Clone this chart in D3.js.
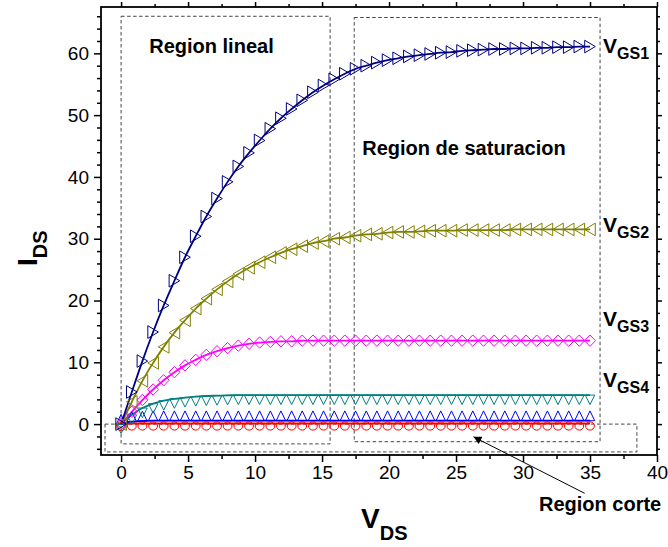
<!DOCTYPE html>
<html>
<head>
<meta charset="utf-8">
<script src="https://cdn.jsdelivr.net/npm/d3@7/dist/d3.min.js"></script>
<style>
html,body{margin:0;padding:0;background:#fff;}
svg{display:block;font-family:"Liberation Sans",Arial,sans-serif;}
</style>
</head>
<body>
<svg id="chart" width="668" height="547"></svg>
<script>
// ---- data ----
const vds = [0,0.80,1.59,2.39,3.18,3.98,4.77,5.57,6.36,7.16,7.95,8.75,9.55,10.34,11.14,11.93,12.73,13.52,14.32,15.11,15.91,16.70,17.50,18.30,19.09,19.89,20.68,21.48,22.27,23.07,23.86,24.66,25.45,26.25,27.05,27.84,28.64,29.43,30.23,31.02,31.82,32.61,33.41,34.20,35.00];
const vgs1 = [0,5.2,10.2,14.9,19.2,23.2,27.0,30.4,33.6,36.5,39.2,41.7,43.9,45.9,47.8,49.5,51.0,52.4,53.7,54.8,55.8,56.7,57.5,58.0,58.5,58.9,59.2,59.5,59.7,59.9,60.1,60.2,60.4,60.5,60.6,60.7,60.7,60.8,60.8,60.9,60.9,61.0,61.0,61.1,61.1];
const vgs2 = [0,3.6,7.0,9.9,12.5,14.8,16.8,18.7,20.3,21.8,23.1,24.3,25.3,26.2,27.0,27.7,28.3,28.8,29.3,29.6,30.0,30.2,30.5,30.7,30.8,31.0,31.1,31.1,31.2,31.3,31.3,31.3,31.4,31.4,31.4,31.4,31.4,31.5,31.5,31.5,31.5,31.5,31.5,31.5,31.5];
const vgs3 = [0,2.0,3.9,5.6,7.1,8.4,9.5,10.4,11.2,11.8,12.3,12.7,13.0,13.2,13.3,13.4,13.4,13.5,13.5,13.5,13.5,13.5,13.5,13.5,13.5,13.5,13.5,13.5,13.5,13.5,13.5,13.5,13.5,13.5,13.5,13.5,13.5,13.5,13.5,13.5,13.5,13.5,13.5,13.5,13.5];
const vgs4 = [0,1.5,2.6,3.3,3.8,4.1,4.3,4.45,4.55,4.6,4.65,4.7,4.7,4.7,4.7,4.7,4.7,4.7,4.7,4.7,4.7,4.7,4.7,4.7,4.7,4.7,4.7,4.7,4.7,4.7,4.7,4.7,4.7,4.7,4.7,4.7,4.7,4.7,4.7,4.7,4.7,4.7,4.7,4.7,4.7];
const vgs5 = [0,0.4,0.5,0.55,0.55,0.55,0.55,0.55,0.55,0.55,0.55,0.55,0.55,0.55,0.55,0.55,0.55,0.55,0.55,0.55,0.55,0.55,0.55,0.55,0.55,0.55,0.55,0.55,0.55,0.55,0.55,0.55,0.55,0.55,0.55,0.55,0.55,0.55,0.55,0.55,0.55,0.55,0.55,0.55,0.55];
const vgs6 = [0,0.1,0.1,0.1,0.1,0.1,0.1,0.1,0.1,0.1,0.1,0.1,0.1,0.1,0.1,0.1,0.1,0.1,0.1,0.1,0.1,0.1,0.1,0.1,0.1,0.1,0.1,0.1,0.1,0.1,0.1,0.1,0.1,0.1,0.1,0.1,0.1,0.1,0.1,0.1,0.1,0.1,0.1,0.1,0.1];
const xMajorTicks = [0,5,10,15,20,25,30,35,40];
const yMajorTicks = [0,10,20,30,40,50,60];
const seriesLabels = ["GS1","GS2","GS3","GS4"];
const annotations = ["Region lineal","Region de saturacion","Region corte"];

// ---- styles ----
const series = [
  {vals: vgs6, color:"#ff0000", shape:"circle"},
  {vals: vgs5, color:"#0000ff", shape:"up"},
  {vals: vgs4, color:"#008080", shape:"down"},
  {vals: vgs3, color:"#ff00ff", shape:"diamond"},
  {vals: vgs2, color:"#808000", shape:"left"},
  {vals: vgs1, color:"#000080", shape:"right"}
];
const shapes = {
  right:"M-5.3,-6.3L5.3,0L-5.3,6.3Z",
  left:"M5.3,-6.3L-5.3,0L5.3,6.3Z",
  down:"M-4.8,0L4.8,0L0,9.5Z",
  up:"M-4.7,0L4.7,0L0,-9.8Z",
  diamond:"M0,-5.7L5.5,0L0,5.7L-5.5,0Z",
  circle:"M-4.4,2.5A4.4,4.1 0 1,0 4.4,2.5A4.4,4.1 0 1,0 -4.4,2.5Z"
};

const svg = d3.select("#chart");
const L=101, R=657, T=7, B=455;
const x = d3.scaleLinear().domain([-1.5,40]).range([L,R]);
const y = d3.scaleLinear().domain([-5,67.5]).range([B,T]);

// dashed region boxes
const dash = {stroke:"#444","stroke-width":1,"stroke-dasharray":"3.5,2.5",fill:"none"};
function box(x0,x1,y0,y1){
  const r = svg.append("rect")
    .attr("x",x(x0)).attr("y",y(y1))
    .attr("width",x(x1)-x(x0)).attr("height",y(y0)-y(y1));
  for (const k in dash) r.attr(k,dash[k]);
}
box(0,15.6,-3.2,66.0);
box(17.4,35.75,-2.85,65.8);
box(-1.2,38.5,-4.5,0);

// lines & markers
const line = d3.line().x((d,i)=>x(vds[i])).y(d=>y(d)).curve(d3.curveMonotoneX);
series.forEach(s=>{
  svg.append("path").attr("d",line(s.vals)).attr("fill","none")
    .attr("stroke",s.color).attr("stroke-width",1.8);
});
series.forEach(s=>{
  svg.append("g").selectAll("path").data(s.vals).join("path")
    .attr("d",shapes[s.shape])
    .attr("transform",(d,i)=>`translate(${x(vds[i])},${y(d)})`)
    .attr("fill","none").attr("stroke",s.color).attr("stroke-width",1);
});

// axes
const minorX = d3.range(0,40.01,2.5).filter(v=>v%5!==0);
const minorY = d3.range(-4,67,2).filter(v=>v%10!==0);
function ax(gen, tr, vals, size, labels){
  const g = svg.append("g").attr("transform",tr)
    .call(gen.tickValues(vals).tickSize(size).tickSizeOuter(0).tickFormat(labels?d3.format("d"):""));
  g.select(".domain").remove();
  g.selectAll("line").attr("stroke","#000").attr("stroke-width",1.5);
  g.selectAll("text").attr("font-size",19).attr("font-family","'Liberation Sans',Arial,sans-serif").attr("fill","#000");
  return g;
}
const gxb = ax(d3.axisBottom(x),`translate(0,${B})`,xMajorTicks,7,true);
gxb.selectAll("text").attr("y",11).attr("dy","0.71em");
ax(d3.axisBottom(x),`translate(0,${B})`,minorX,4,false);
ax(d3.axisTop(x),`translate(0,${T})`,xMajorTicks,5,false);
ax(d3.axisTop(x),`translate(0,${T})`,minorX,3,false);
const gyl = ax(d3.axisLeft(y),`translate(${L},0)`,yMajorTicks,7,true);
gyl.selectAll("text").attr("x",-12);
ax(d3.axisLeft(y),`translate(${L},0)`,minorY,4,false);
ax(d3.axisRight(y),`translate(${R},0)`,yMajorTicks,5,false);
ax(d3.axisRight(y),`translate(${R},0)`,minorY,3,false);

// frame
svg.append("rect").attr("x",L).attr("y",T).attr("width",R-L).attr("height",B-T)
  .attr("fill","none").attr("stroke","#000").attr("stroke-width",1.8);

// annotation texts
const fs = "font-weight:bold;fill:#000;";
svg.append("text").attr("x",x(2.1)).attr("y",53).attr("font-size",20).attr("style",fs).text(annotations[0]);
svg.append("text").attr("x",x(18.0)).attr("y",155).attr("font-size",20).attr("style",fs).text(annotations[1]);
svg.append("text").attr("x",539).attr("y",511).attr("font-size",20).attr("style",fs).text(annotations[2]);

// arrow
svg.append("defs").append("marker").attr("id","ah").attr("viewBox","0 0 10 10")
  .attr("refX",10).attr("refY",5).attr("markerWidth",10).attr("markerHeight",8)
  .attr("markerUnits","userSpaceOnUse").attr("orient","auto")
  .append("path").attr("d","M0,0L10,5L0,10Z").attr("fill","#000");
svg.append("line").attr("x1",x(34.6)).attr("y1",y(-11.2)).attr("x2",x(26.3)).attr("y2",y(-2.05))
  .attr("stroke","#000").attr("stroke-width",1).attr("marker-end","url(#ah)");

// VGS labels
const vgsBase = [53,232,326,387];
seriesLabels.forEach((lab,i)=>{
  const t = svg.append("text").attr("x",603).attr("y",vgsBase[i]).attr("style",fs);
  t.append("tspan").attr("font-size",21).text("V");
  t.append("tspan").attr("font-size",16).attr("dy",6).text(lab);
});

// axis titles
const xt = svg.append("text").attr("x",361).attr("y",528).attr("style",fs);
xt.append("tspan").attr("font-size",28).text("V");
xt.append("tspan").attr("font-size",20).attr("dy",12).text("DS");
const yt = svg.append("text").attr("transform","translate(37,266) rotate(-90)").attr("style",fs);
yt.append("tspan").attr("font-size",28).text("I");
yt.append("tspan").attr("font-size",20).attr("dy",10).text("DS");
</script>
</body>
</html>
